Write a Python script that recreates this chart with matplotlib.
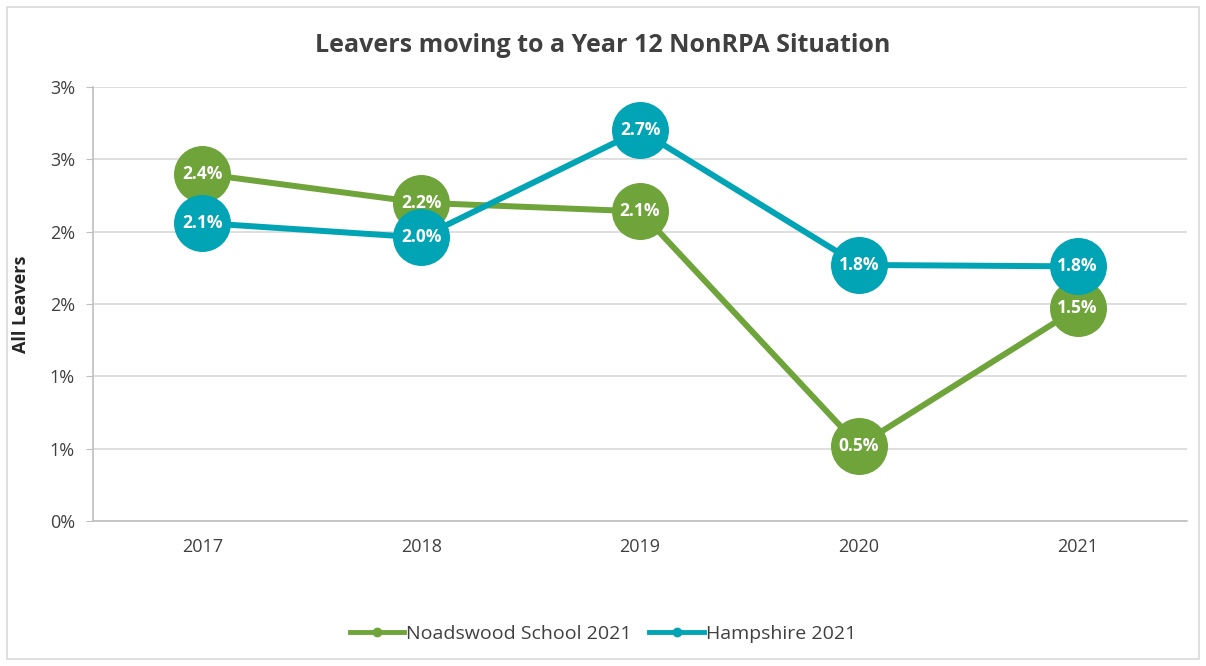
import matplotlib
matplotlib.use('Agg')
import matplotlib.pyplot as plt
import matplotlib.ticker as ticker
from matplotlib.patches import Rectangle

years = ['2017', '2018', '2019', '2020', '2021']
noadswood = [2.40, 2.20, 2.14, 0.52, 1.47]
hampshire = [2.06, 1.96, 2.70, 1.77, 1.76]
series_names = ['Noadswood School 2021', 'Hampshire 2021']
colors = ['#6ea43a', '#00a4b4']

plt.rcParams['font.family'] = ['Open Sans', 'DejaVu Sans']

fig = plt.figure(figsize=(12.06, 6.66), dpi=100)
ax = fig.add_axes([93 / 1206, 1 - 521 / 666, 1094 / 1206, 434 / 666])

# outer chart border
fig.patches.append(Rectangle((7 / 1206, 7 / 666), 1 - 14 / 1206, 1 - 14 / 666,
                             transform=fig.transFigure, fill=False,
                             edgecolor='#d9d9d9', linewidth=1.2))

x = range(len(years))
for vals, name, col in zip([noadswood, hampshire], series_names, colors):
    ax.plot(x, vals, color=col, linewidth=4.3, marker='o', markersize=40,
            label=name, solid_capstyle='round')
    for xi, v in zip(x, vals):
        ax.text(xi, v, f'{v:.1f}%', ha='center', va='center', color='white',
                fontsize=12.5, fontweight='bold')

ax.set_xlim(-0.5, 4.5)
ax.set_ylim(0, 3.0)
ax.set_xticks(list(x))
ax.set_xticklabels(years)
ax.yaxis.set_major_locator(ticker.MultipleLocator(0.5))
# Excel-style rounding (half away from zero)
ax.yaxis.set_major_formatter(ticker.FuncFormatter(lambda v, p: f'{int(v + 0.5)}%'))
ax.grid(axis='y', color='#d9d9d9', linewidth=1.2)
ax.set_axisbelow(True)
for s in ['top', 'right']:
    ax.spines[s].set_visible(False)
for s in ['left', 'bottom']:
    ax.spines[s].set_color('#bfbfbf')
    ax.spines[s].set_linewidth(1.2)
ax.tick_params(axis='y', length=5, color='#bfbfbf', labelsize=13,
               labelcolor='#404040', pad=8)
ax.tick_params(axis='x', length=0, labelsize=13, labelcolor='#404040', pad=12)

ax.set_ylabel('All Leavers', fontsize=13, fontweight='bold', color='#262626',
              labelpad=14)
fig.text(0.5, 1 - 45 / 666, 'Leavers moving to a Year 12 NonRPA Situation',
         ha='center', va='center', fontsize=18, fontweight='bold', color='#404040')

handles = [plt.Line2D([0], [0], color=c, linewidth=3.5, marker='o', markersize=6)
           for c in colors]
fig.legend(handles, series_names, loc='center', bbox_to_anchor=(0.5, 1 - 634 / 666),
           ncol=2, frameon=False, fontsize=14, handlelength=2.8,
           handletextpad=0.1, columnspacing=0.9, labelcolor='#404040')

fig.savefig('out.png', dpi=100)
